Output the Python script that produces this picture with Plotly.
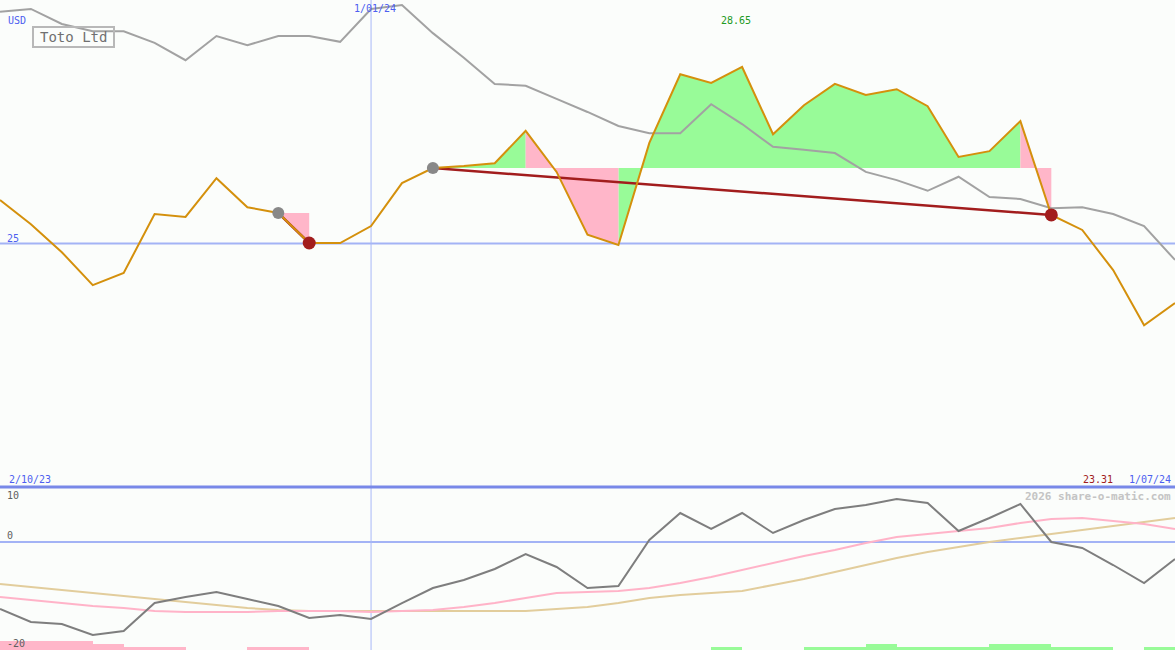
import pandas as pd
import plotly.graph_objects as go

# ---------------- data ----------------
dates = pd.date_range("2023-10-09", periods=39, freq="7D")

price = [25.90, 25.40, 24.82, 24.14, 24.39, 25.61, 25.55, 26.35, 25.75, 25.63,
         25.01, 25.01, 25.36, 26.25, 26.56, 26.60, 26.66, 27.33, 26.48, 25.18,
         24.97, 27.08, 28.50, 28.32, 28.65, 27.26, 27.86, 28.30, 28.07, 28.19,
         27.84, 26.79, 26.91, 27.53, 25.59, 25.28, 24.45, 23.31, 23.77]

compare = [29.79, 29.85, 29.54, 29.39, 29.39, 29.15, 28.79, 29.29, 29.10, 29.29,
           29.29, 29.17, 29.85, 29.93, 29.35, 28.84, 28.30, 28.26, 27.99, 27.72,
           27.43, 27.28, 27.28, 27.88, 27.47, 27.00, 26.94, 26.87, 26.48, 26.31,
           26.09, 26.38, 25.96, 25.92, 25.73, 25.75, 25.61, 25.36, 24.66]

oscillator = [-12.41, -14.81, -15.19, -17.22, -16.48, -11.30, -10.19, -9.26, -10.56, -11.85,
              -14.07, -13.52, -14.26, -11.30, -8.52, -7.04, -5.00, -2.22, -4.63, -8.52,
              -8.15, 0.37, 5.37, 2.41, 5.37, 1.67, 4.07, 6.11, 6.85, 7.96,
              7.22, 2.04, 4.44, 7.04, 0.00, -1.11, -4.26, -7.59, -3.15]

ma_fast = [-10.19, -10.74, -11.30, -11.85, -12.22, -12.78, -12.96, -12.96, -12.96, -12.78,
           -12.78, -12.78, -12.96, -12.78, -12.59, -12.04, -11.30, -10.37, -9.44, -9.26,
           -9.07, -8.52, -7.59, -6.48, -5.19, -3.89, -2.59, -1.48, -0.19, 0.93,
           1.48, 2.04, 2.59, 3.52, 4.26, 4.44, 3.89, 3.33, 2.41]

ma_slow = [-7.78, -8.33, -8.89, -9.44, -10.00, -10.56, -11.11, -11.67, -12.22, -12.59,
           -12.78, -12.78, -12.78, -12.78, -12.78, -12.78, -12.78, -12.78, -12.41, -12.04,
           -11.30, -10.37, -9.81, -9.44, -9.07, -7.96, -6.85, -5.56, -4.26, -2.96,
           -1.85, -0.93, 0.00, 0.74, 1.48, 2.22, 2.96, 3.70, 4.44]

# signal strength per weekly interval (negative = pink, positive = green)
signal = [-3, -3, -3, -2, -1, -1, 0, 0, -1, -1,
          0, 0, 0, 0, 0, 0, 0, 0, 0, 0,
          0, 0, 0, 1, 0, 0, 1, 1, 2, 1,
          1, 1, 2, 2, 1, 1, 0, 1]

entries = [9, 14]
exits = [10, 34]
# state of each weekly interval during the trades ("g" = favourable, "p" = adverse)
trade_states = [
    "p",
    "ggg" + "ppp" + "ggggggggggggg" + "p",
]

labels = {"currency": "USD", "name": "Toto Ltd", "mid": "1/01/24", "start": "2/10/23",
          "end": "1/07/24", "hi": "28.65", "lo": "23.31", "ref": "25",
          "wm": "2026 share-o-matic.com"}

# ---------------- styles ----------------
W, H = 1175, 650
BG = "#fbfdfb"
BLUE = "#4d5ff0"
GREEN_FILL = "#98fb98"
PINK_FILL = "#ffb6c9"
ORANGE = "#d4900c"
GREY = "#a2a2a2"
DARK_RED = "#a21d1d"
MONO = "DejaVu Sans Mono"
BAR_UNIT = 0.556

fig = go.Figure()

# trade fills
gx, gy, px_, py = [], [], [], []
for e, x, st in zip(entries, exits, trade_states):
    lvl = price[e]
    for k, i in enumerate(range(e, x)):
        xs = [dates[i], dates[i], dates[i + 1], dates[i + 1], dates[i], None]
        ys = [lvl, price[i], price[i + 1], lvl, lvl, None]
        if st[k] == "g":
            gx += xs; gy += ys
        else:
            px_ += xs; py += ys
fig.add_trace(go.Scatter(x=gx, y=gy, fill="toself", fillcolor=GREEN_FILL, mode="lines",
                         line=dict(width=0), hoverinfo="skip"))
fig.add_trace(go.Scatter(x=px_, y=py, fill="toself", fillcolor=PINK_FILL, mode="lines",
                         line=dict(width=0), hoverinfo="skip"))

# comparison line
fig.add_trace(go.Scatter(x=dates, y=compare, mode="lines", line=dict(color=GREY, width=2)))

# trade lines
for e, x in zip(entries, exits):
    fig.add_trace(go.Scatter(x=[dates[e], dates[x]], y=[price[e], price[x]], mode="lines",
                             line=dict(color=DARK_RED, width=2.5)))

# price line
fig.add_trace(go.Scatter(x=dates, y=price, mode="lines", line=dict(color=ORANGE, width=2)))

# markers
fig.add_trace(go.Scatter(x=[dates[i] for i in entries], y=[price[i] for i in entries],
                         mode="markers", marker=dict(color="#888888", size=12, line=dict(width=0))))
fig.add_trace(go.Scatter(x=[dates[i] for i in exits], y=[price[i] for i in exits],
                         mode="markers", marker=dict(color=DARK_RED, size=13, line=dict(width=0))))

# lower panel: bars
half = pd.Timedelta(days=3.5)
bx = [dates[i] + half for i in range(len(signal)) if signal[i] != 0]
bh = [abs(s) * BAR_UNIT for s in signal if s != 0]
bc = [GREEN_FILL if s > 0 else PINK_FILL for s in signal if s != 0]
fig.add_trace(go.Bar(x=bx, y=bh, base=-20, marker=dict(color=bc, line=dict(width=0)),
                     width=7 * 86400000, yaxis="y2"))

fig.add_trace(go.Scatter(x=dates, y=ma_slow, mode="lines", line=dict(color="#e2cd9c", width=2), yaxis="y2"))
fig.add_trace(go.Scatter(x=dates, y=ma_fast, mode="lines", line=dict(color="#ffb3c8", width=2), yaxis="y2"))
fig.add_trace(go.Scatter(x=dates, y=oscillator, mode="lines", line=dict(color="#7e7e7e", width=2), yaxis="y2"))

sep = 1 - 487 / H
fig.update_layout(
    width=W, height=H, margin=dict(l=0, r=0, t=0, b=0),
    paper_bgcolor=BG, plot_bgcolor=BG, showlegend=False, hovermode=False,
    xaxis=dict(range=[dates[0], dates[-1]], visible=False, showgrid=False, zeroline=False),
    yaxis=dict(domain=[163 / H, 1], range=[19.965, 30.035], visible=False, showgrid=False, zeroline=False),
    yaxis2=dict(domain=[0, 162 / H], range=[-20, 10], visible=False, showgrid=False, zeroline=False),
    bargap=0,
)

shapes = [
    dict(type="line", xref="paper", yref="y", x0=0, x1=1, y0=25, y1=25,
         line=dict(color="#a3b3f5", width=2), layer="below"),
    dict(type="line", xref="paper", yref="y2", x0=0, x1=1, y0=0, y1=0,
         line=dict(color="#a3b3f5", width=2), layer="below"),
    dict(type="line", xref="x", yref="paper", x0=pd.Timestamp("2024-01-01"), x1=pd.Timestamp("2024-01-01"),
         y0=0, y1=1, line=dict(color="#a8b8f8", width=1), layer="below"),
    dict(type="line", xref="paper", yref="paper", x0=0, x1=1, y0=sep, y1=sep,
         line=dict(color="#7888e8", width=3)),
    # name box
    dict(type="rect", xref="paper", yref="paper", x0=33 / W, x1=114 / W,
         y0=1 - 47 / H, y1=1 - 27 / H, line=dict(color="#b8b8b8", width=2)),
]
fig.update_layout(shapes=shapes)


def ann(text, x, y, color, size=10, xanchor="left", yanchor="middle", **kw):
    fig.add_annotation(text=text, x=x / W, y=1 - y / H, xref="paper", yref="paper",
                       xanchor=xanchor, yanchor=yanchor, showarrow=False,
                       font=dict(family=MONO, size=size, color=color), **kw)


ann(labels["currency"], 6, 20, BLUE)
ann(labels["name"], 73.5, 37, "#707070", size=14, xanchor="center")
ann(labels["mid"], 375, 9, BLUE, xanchor="center")
ann(labels["hi"], 736, 21, "#229922", xanchor="center")
ann(labels["ref"], 5, 238, BLUE)
ann(labels["start"], 7, 479, BLUE)
ann(labels["lo"], 1115, 479, DARK_RED, xanchor="right")
ann(labels["end"], 1173, 479, BLUE, xanchor="right")
ann("10", 5, 495, "#606060")
ann("0", 5, 535, "#606060")
ann("-20", 5, 643, "#606060")
ann("<b>" + labels["wm"] + "</b>", 1173, 496, "#c4c4c4", size=11, xanchor="right")

fig.write_html("out.html", config={"displayModeBar": False, "staticPlot": True},
               post_script="document.body.style.margin='0';document.body.style.overflow='hidden';")
